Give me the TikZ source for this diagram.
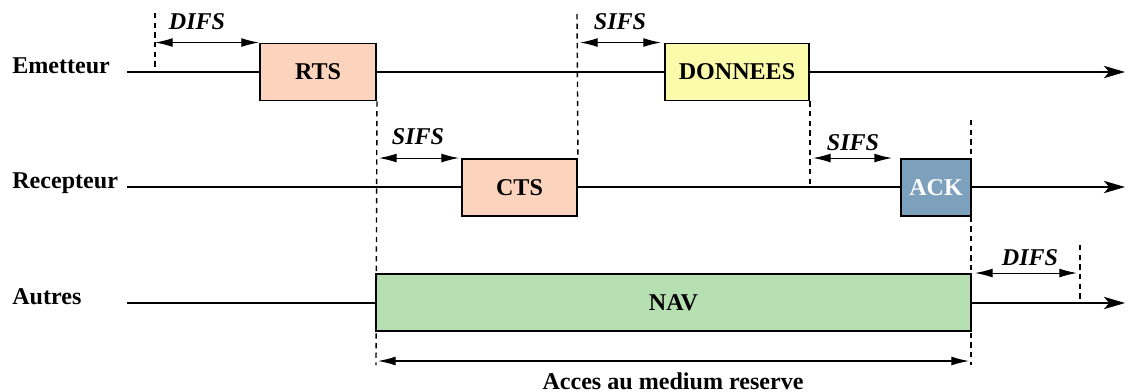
\documentclass[tikz,border=0pt]{standalone}
\usepackage{fontspec}
\setmainfont{Liberation Serif}
\usepackage{tikz}
\usetikzlibrary{arrows.meta,calc,positioning}
\definecolor{rtsfill}{RGB}{252,211,188}
\definecolor{datafill}{RGB}{250,252,171}
\definecolor{ackfill}{RGB}{125,161,189}
\definecolor{navfill}{RGB}{182,224,177}

\begin{document}
\begin{tikzpicture}[x=0.02cm,y=-0.02cm,>=Latex,
    font=\fontsize{13.7}{16}\selectfont\bfseries,
    axe/.style={line width=1.1pt,-{Stealth[length=12pt,width=7pt,inset=3pt]}},
    trame/.style={draw,line width=1.1pt,inner sep=0pt,minimum height=57*0.02cm},
    tiret/.style={line width=0.8pt,dash pattern=on 3pt off 2.5pt},
    cote/.style={line width=0.6pt,{Latex[length=10pt,width=5pt]}-{Latex[length=10pt,width=5pt]}},
    lbl/.style={anchor=base west,inner sep=0pt},
    intv/.style={font=\fontsize{13.7}{16}\selectfont\bfseries\itshape}]
  \useasboundingbox (0,0) rectangle (1129,392);
  % stations
  \node[lbl] (emet) at (12,73) {Emetteur};
  \node[lbl] (recep) at (12,188) {Recepteur};
  \node[lbl] (autres) at (12,304) {Autres};
  % axes du temps
  \coordinate (e0) at (127,72);  \coordinate (e1) at (1125,72);
  \coordinate (r0) at (127,187); \coordinate (r1) at (1125,187);
  \coordinate (a0) at (127,303); \coordinate (a1) at (1125,303);
  \draw[axe] (e0) -- (e1);
  \draw[axe] (r0) -- (r1);
  \draw[axe] (a0) -- (a1);
  % trames
  \node[trame,fill=rtsfill,minimum width=116*0.02cm] (rts) at (318,72) {RTS};
  \node[trame,fill=datafill,minimum width=144*0.02cm] (donnees) at (737,72) {DONNEES};
  \node[trame,fill=rtsfill,minimum width=115*0.02cm] (cts) at (519.5,187.5) {CTS};
  \node[trame,fill=ackfill,minimum width=70*0.02cm,text=white] (ack) at (936,187.5) {ACK};
  \node[trame,fill=navfill,minimum width=595*0.02cm] (nav) at (673.5,302.5) {NAV};
  % limites
  \coordinate (d1) at (155,13);  \coordinate (d1b) at (155,70);
  \coordinate (s1) at (577,14);
  \coordinate (f1) at (376,365);
  \coordinate (k0) at (971,120); \coordinate (k1) at (971,365);
  \coordinate (d2) at (1080,245); \coordinate (d2b) at (1080,300);
  \draw[tiret] (d1) -- (d1b);
  \draw[tiret] (rts.south east) -- (f1);
  \draw[tiret] (s1) -- (cts.north east);
  \draw[tiret] (donnees.south east) -- (donnees.south east |- r0);
  \draw[tiret] (k0) -- (k1);
  \draw[tiret] (d2) -- (d2b);
  % intervalles
  \draw[cote] (d1 |- rts.north west) -- (rts.north west);
  \node[intv] (difs1) at (197,22) {DIFS};
  \draw[cote,shorten <=3*0.02cm,shorten >=3*0.02cm] (s1 |- donnees.north west) -- (donnees.north west);
  \node[intv] (sifs1) at (620,22) {SIFS};
  \draw[cote,shorten <=2*0.02cm,shorten >=2*0.02cm] (rts.south east |- cts.north west) -- (cts.north west);
  \node[intv] (sifs2) at (418,137) {SIFS};
  \draw[cote,shorten <=3*0.02cm,shorten >=8*0.02cm] (donnees.south east |- ack.north west) -- (ack.north west);
  \node[intv] (sifs3) at (853,143) {SIFS};
  \draw[cote,shorten <=3*0.02cm,shorten >=3*0.02cm] (nav.north east) -- (d2 |- nav.north east);
  \node[intv] (difs2) at (1030,258) {DIFS};
  \draw[cote,shorten <=2*0.02cm,shorten >=2*0.02cm] (f1 |- 0,361) -- (k1 |- 0,361);
  \node (acces) at (673,381) {Acces au medium reserve};
\end{tikzpicture}
\end{document}
